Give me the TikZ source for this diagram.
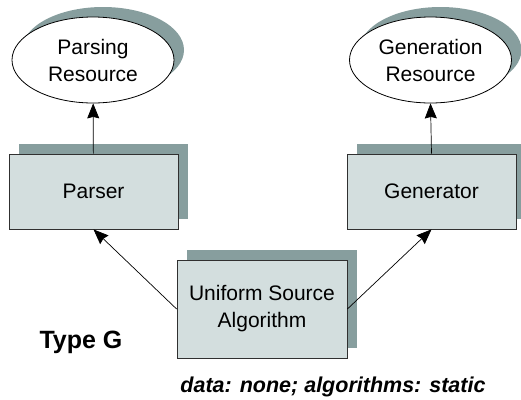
\documentclass[tikz,border=0pt]{standalone}
\usepackage{fontspec}
\setmainfont{Liberation Sans}
\usetikzlibrary{shapes.geometric,arrows.meta,shadows}
\definecolor{boxfill}{HTML}{D3DEDE}
\definecolor{shadowc}{HTML}{879E9E}
\definecolor{edgec}{HTML}{303030}
\tikzset{
  dropshadow/.style={general shadow={shadow xshift=10pt, shadow yshift=10pt, fill=shadowc, draw=none}},
  resource/.style={ellipse, draw=black, line width=0.8pt, fill=white, dropshadow,
    minimum width=162pt, minimum height=86pt, inner sep=0pt, align=center,
    font=\fontsize{21}{27}\selectfont},
  module/.style={rectangle, draw=edgec, line width=0.8pt, fill=boxfill, dropshadow,
    inner sep=0pt, align=center, font=\fontsize{21}{27}\selectfont},
  arr/.style={draw=black, line width=0.7pt, -{Stealth[length=15pt,width=12pt,inset=1.5pt]}},
}
\begin{document}
\begin{tikzpicture}[x=1pt,y=-1pt]
\useasboundingbox (0,0) rectangle (521,399);
% resources
\node[resource] (parse) at (93,60) {Parsing\\Resource};
\node[resource] (genres) at (430.5,60) {Generation\\Resource};
% modules
\node[module, minimum width=169pt, minimum height=75pt] (parser) at (93.5,191.5) {Parser};
\node[module, minimum width=169pt, minimum height=75pt] (gen) at (431.5,191.5) {Generator};
\node[module, minimum width=170pt, minimum height=98pt] (uni) at (262,309) {Uniform Source\\Algorithm};
% connectors
\draw[arr] (parser) -- (parse);
\draw[arr] (gen.north) -- (genres.south);
\draw[arr] (uni.west) -- (parser.south);
\draw[arr] (uni.east) -- (gen.south);
% captions
\node[font=\fontsize{25}{28}\selectfont\bfseries] (type) at (81,342) {Type G};
\node[font=\fontsize{21.5}{26}\selectfont\bfseries\itshape] (note) at (333,387) {data: none; algorithms: static};
\end{tikzpicture}
\end{document}
